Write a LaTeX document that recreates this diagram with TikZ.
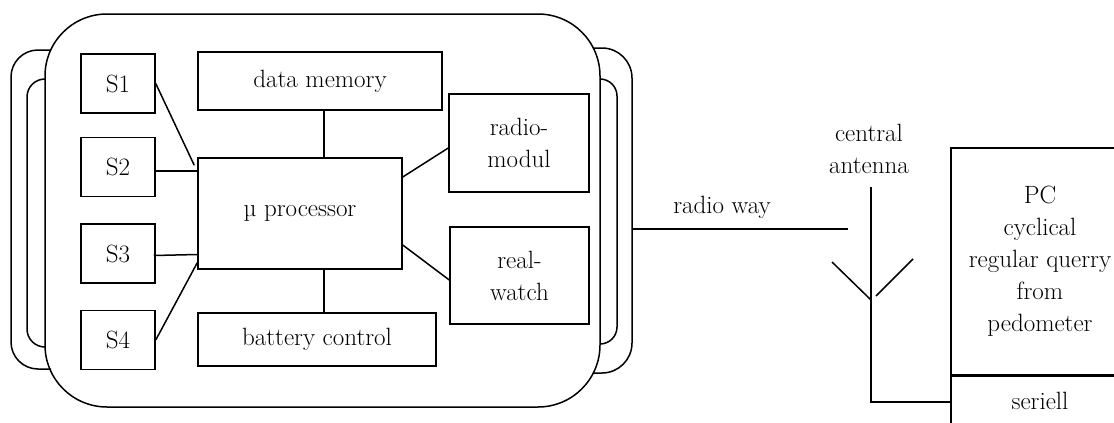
\documentclass[tikz,border=0pt]{standalone}
\usepackage{fontspec}
\begin{document}
\begin{tikzpicture}[x=1pt,y=-1pt,
  every node/.style={font=\fontsize{25}{32}\selectfont},
  box/.style={draw, line width=1.5pt, inner sep=0pt, align=center},
  ln/.style={line width=1.5pt},
  txt/.style={inner sep=0pt, align=center}]
\clip (0,0) rectangle (1114,423);
% body of the device
\node[draw, line width=1.5pt, rounded corners=62pt, minimum width=555pt, minimum height=393pt, inner sep=0pt] (body) at (322.5,210.5) {};
% brackets
\draw[ln, rounded corners=27pt] (51,50) -- (11,50) -- (11,369) -- (51,369);
\draw[ln, rounded corners=18pt] (45,79) -- (27,79) -- (27,347) -- (45,347);
\draw[ln, rounded corners=30pt] (593,48) -- (632,48) -- (632,373) -- (593,373);
\draw[ln, rounded corners=17pt] (600,79) -- (617,79) -- (617,344) -- (600,344);
% sensors
\node[box, minimum width=74pt, minimum height=59pt] (s1) at (118,83.5) {S1};
\node[box, minimum width=74pt, minimum height=59pt] (s2) at (118,167) {S2};
\node[box, minimum width=74pt, minimum height=59pt] (s3) at (118,253.5) {S3};
\node[box, minimum width=74pt, minimum height=59pt] (s4) at (118,340) {S4};
% inner blocks
\node[box, minimum width=244pt, minimum height=58pt] (dm) at (320,81) {data memory};
\node[box, minimum width=204pt, minimum height=111pt] (proc) at (300,213.5) {µ processor};
\node[box, minimum width=238pt, minimum height=53pt] (bat) at (317,339.5) {battery control};
\node[box, minimum width=140pt, minimum height=98pt] (radio) at (519,143) {radio-\\modul};
\node[box, minimum width=139pt, minimum height=97pt] (rw) at (519.5,275.5) {real-\\watch};
% connectors
\draw[ln] (s1.east) -- ([xshift=-3pt,yshift=-8pt]proc.north west);
\draw[ln] ([yshift=-4pt]s2.east) -- ([yshift=-4pt]s2.east -| proc.west);
\draw[ln] ([xshift=-2pt,yshift=-2pt]s3.east) -- ([yshift=-1pt]s3.east -| proc.west);
\draw[ln] (s4.east) -- ([yshift=7pt]proc.south west);
\draw[ln] ([xshift=24pt]proc.north) -- ([xshift=24pt]proc.north |- dm.south);
\draw[ln] ([xshift=24pt]proc.south) -- ([xshift=24pt]proc.south |- bat.north);
\draw[ln] ([yshift=36.5pt]proc.east) -- ([yshift=-5pt]radio.west);
\draw[ln] ([yshift=-31.5pt]proc.east) -- ([yshift=-4.5pt]rw.west);
% radio way
\coordinate (rwL) at (632,229);
\coordinate (rwR) at (848,229);
\draw[ln] (rwL) -- (rwR);
\node[txt] (rwlabel) at (722,207) {radio way};
% antenna
\node[txt] (antlabel) at (869,149) {central\\antenna};
\coordinate (antT) at (871,187);
\coordinate (antB) at (871,402);
\coordinate (antJ) at (871,300);
\coordinate (armL) at (832,262);
\coordinate (armR) at (913,259);
\coordinate (armRe) at (876,296);
% PC
\node[box, minimum width=178pt, minimum height=227pt] (pc) at (1040,261.5) {PC\\cyclical\\regular querry\\from\\pedometer};
\node[box, minimum width=178pt, minimum height=52pt] (ser) at (1040,401) {seriell};
\draw[line width=2.8pt] (pc.south west) -- (pc.south east);
\draw[ln] (antT) -- (antB) -- (antB -| ser.west);
\draw[ln] (armL) -- (antJ);
\draw[ln] (armR) -- (armRe);
\end{tikzpicture}
\end{document}
